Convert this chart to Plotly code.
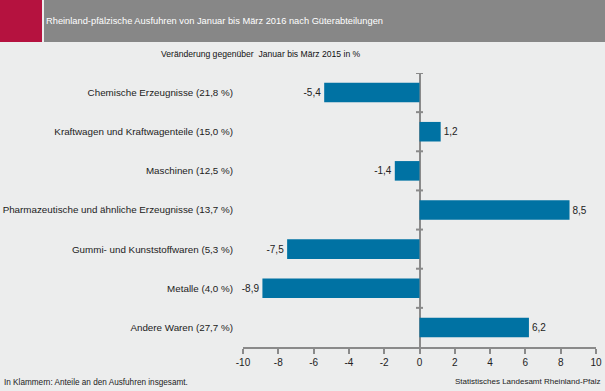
import plotly.graph_objects as go

categories = [
    "Chemische Erzeugnisse (21,8 %)",
    "Kraftwagen und Kraftwagenteile (15,0 %)",
    "Maschinen (12,5 %)",
    "Pharmazeutische und ähnliche Erzeugnisse (13,7 %)",
    "Gummi- und Kunststoffwaren (5,3 %)",
    "Metalle (4,0 %)",
    "Andere Waren (27,7 %)",
]
values = [-5.4, 1.2, -1.4, 8.5, -7.5, -8.9, 6.2]
x_ticks = [-10, -8, -6, -4, -2, 0, 2, 4, 6, 8, 10]

title = "Rheinland-pfälzische Ausfuhren von Januar bis März 2016 nach Güterabteilungen"
subtitle = "Veränderung gegenüber  Januar bis März 2015 in %"
note = "In Klammern: Anteile an den Ausfuhren insgesamt."
source = "Statistisches Landesamt Rheinland-Pfalz"

FONT = "Liberation Sans, Arial, sans-serif"
W, H = 605, 391
L, R, T, B = 243, 9, 73, 44

fig = go.Figure(go.Bar(
    x=values, y=categories, orientation="h",
    marker=dict(color="#0072A3", line=dict(width=0)),
    text=values, texttemplate="%{x:.1f}", textposition="outside",
    textfont=dict(family=FONT, size=10, color="#222"),
    cliponaxis=False, width=0.5,
))

pw, ph = W - L - R, H - T - B
def px_x(p):
    return (p - L) / pw
def px_y(p):
    return 1 - (p - T) / ph

shapes = [
    dict(type="rect", xref="paper", yref="paper", x0=px_x(0), x1=px_x(42), y0=px_y(0), y1=px_y(42),
         line_width=0, fillcolor="#B5123F"),
    dict(type="rect", xref="paper", yref="paper", x0=px_x(44), x1=px_x(W), y0=px_y(0), y1=px_y(42),
         line_width=0, fillcolor="#878787"),
]
# small ticks on the zero line at category boundaries
for i in range(-1, len(categories) - 1):
    shapes.append(dict(type="line", xref="x", yref="y", x0=-0.2, x1=0.2, y0=i + 0.5, y1=i + 0.5,
                       line=dict(color="#8a8a8a", width=2)))

annotations = [
    dict(text=title, xref="paper", yref="paper", x=px_x(44), y=px_y(21), xanchor="left", yanchor="middle",
         showarrow=False, font=dict(family=FONT, size=9.3, color="white")),
    dict(text=subtitle, xref="paper", yref="paper", x=px_x(261), y=px_y(54), xanchor="center", yanchor="middle",
         showarrow=False, font=dict(family=FONT, size=8.6, color="#111")),
    dict(text=note, xref="paper", yref="paper", x=px_x(2), y=px_y(382), xanchor="left", yanchor="middle",
         showarrow=False, font=dict(family=FONT, size=8.2, color="#222")),
    dict(text=source, xref="paper", yref="paper", x=px_x(602), y=px_y(381), xanchor="right", yanchor="middle",
         showarrow=False, font=dict(family=FONT, size=8, color="#222")),
]

fig.update_layout(
    width=W, height=H,
    margin=dict(l=L, r=R, t=T, b=B, pad=0, autoexpand=False),
    paper_bgcolor="#ECEDED", plot_bgcolor="#ECEDED",
    separators=", ",
    showlegend=False,
    shapes=shapes, annotations=annotations,
    font=dict(family=FONT, size=10, color="#222"),
)
fig.update_xaxes(
    range=[-10, 10], tickvals=x_ticks, ticktext=[str(v) for v in x_ticks],
    showgrid=False, zeroline=True, zerolinecolor="#8a8a8a", zerolinewidth=2,
    showline=True, linecolor="#8a8a8a", linewidth=2,
    ticks="outside", ticklen=5, tickwidth=2, tickcolor="#8a8a8a",
    tickfont=dict(family=FONT, size=10, color="#222"), automargin=False,
)
fig.update_yaxes(
    range=[len(categories) - 0.5, -0.5], showgrid=False, zeroline=False, showline=False,
    ticks="", ticklabelstandoff=9, automargin=False,
    tickfont=dict(family=FONT, size=9.8, color="#222"),
)

fig.write_html(
    "out.html",
    config={"responsive": False, "displayModeBar": False},
    post_script="document.body.style.margin='0';document.body.style.overflow='hidden';",
)
